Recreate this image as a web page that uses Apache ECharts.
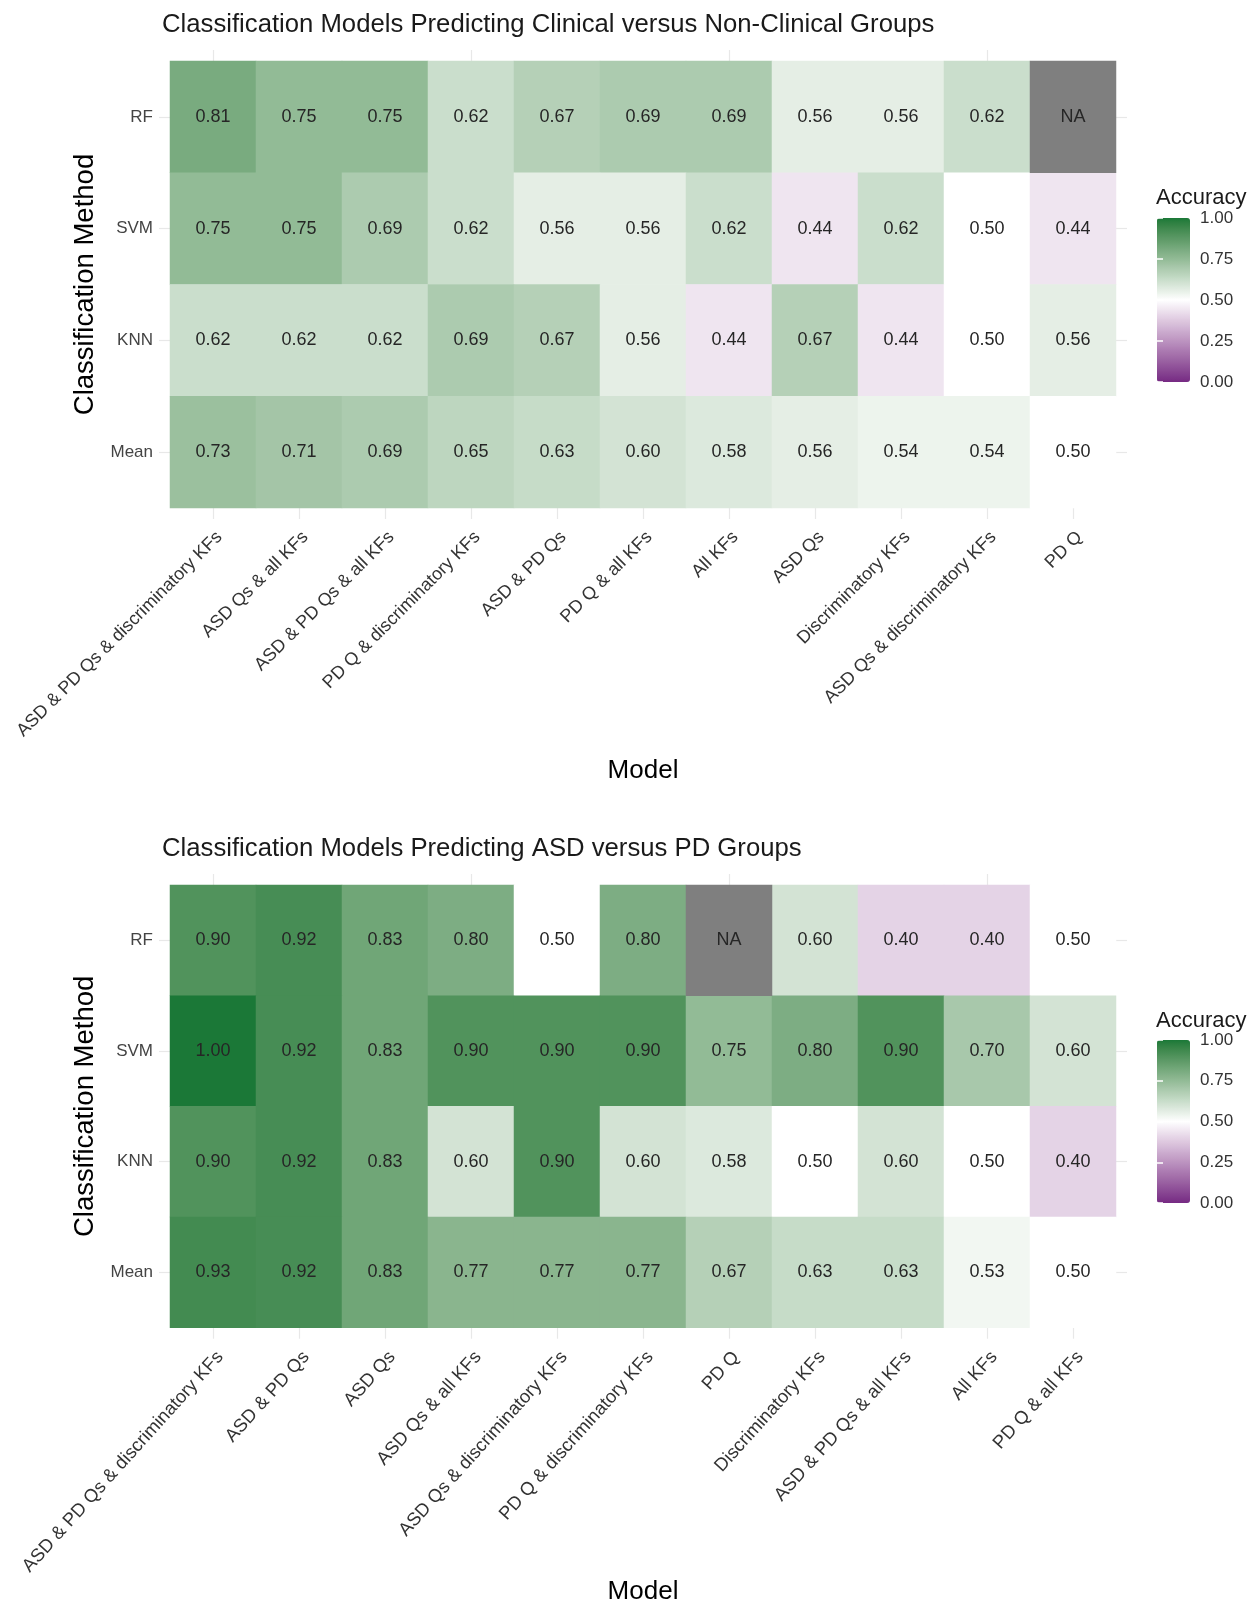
<!DOCTYPE html>
<html>
<head>
<meta charset="utf-8">
<script src="https://cdn.jsdelivr.net/npm/echarts@6/dist/echarts.min.js"></script>
<style>
html, body { margin: 0; padding: 0; background: #fff; }
#main { width: 1255px; height: 1606px; }
</style>
</head>
<body>
<div id="main"></div>
<script>
var methods = ['RF', 'SVM', 'KNN', 'Mean'];

// clinical vs non-clinical
var modelsClinical = ['ASD & PD Qs & discriminatory KFs', 'ASD Qs & all KFs', 'ASD & PD Qs & all KFs',
	'PD Q & discriminatory KFs', 'ASD & PD Qs', 'PD Q & all KFs', 'All KFs', 'ASD Qs',
	'Discriminatory KFs', 'ASD Qs & discriminatory KFs', 'PD Q'];
var rfClinical   = [0.81, 0.75, 0.75, 0.62, 0.67, 0.69, 0.69, 0.56, 0.56, 0.62, null];
var svmClinical  = [0.75, 0.75, 0.69, 0.62, 0.56, 0.56, 0.62, 0.44, 0.62, 0.50, 0.44];
var knnClinical  = [0.62, 0.62, 0.62, 0.69, 0.67, 0.56, 0.44, 0.67, 0.44, 0.50, 0.56];
var meanClinical = [0.73, 0.71, 0.69, 0.65, 0.63, 0.60, 0.58, 0.56, 0.54, 0.54, 0.50];

// ASD vs PD
var modelsAsdPd = ['ASD & PD Qs & discriminatory KFs', 'ASD & PD Qs', 'ASD Qs', 'ASD Qs & all KFs',
	'ASD Qs & discriminatory KFs', 'PD Q & discriminatory KFs', 'PD Q', 'Discriminatory KFs',
	'ASD & PD Qs & all KFs', 'All KFs', 'PD Q & all KFs'];
var rfAsdPd   = [0.90, 0.92, 0.83, 0.80, 0.50, 0.80, null, 0.60, 0.40, 0.40, 0.50];
var svmAsdPd  = [1.00, 0.92, 0.83, 0.90, 0.90, 0.90, 0.75, 0.80, 0.90, 0.70, 0.60];
var knnAsdPd  = [0.90, 0.92, 0.83, 0.60, 0.90, 0.60, 0.58, 0.50, 0.60, 0.50, 0.40];
var meanAsdPd = [0.93, 0.92, 0.83, 0.77, 0.77, 0.77, 0.67, 0.63, 0.63, 0.53, 0.50];

var font = 'Liberation Sans, Arial, sans-serif';

function toCells(rows) {
	var cells = [], naCells = [];
	rows.forEach(function (row, yi) {
		row.forEach(function (v, xi) {
			if (v === null) naCells.push([xi, yi, 0]); // NA: value only used to draw the grey tile
			else cells.push([xi, yi, v]);
		});
	});
	return { cells: cells, naCells: naCells };
}
var clinical = toCells([rfClinical, svmClinical, knnClinical, meanClinical]);
var asdPd = toCells([rfAsdPd, svmAsdPd, knnAsdPd, meanAsdPd]);

// ggplot scale_fill_gradient2 interpolates in Lab, so build the stops that way
function hexToLab(h) {
	var lin = [1, 3, 5].map(function (i) {
		var v = parseInt(h.slice(i, i + 2), 16) / 255;
		return v <= 0.04045 ? v / 12.92 : Math.pow((v + 0.055) / 1.055, 2.4);
	});
	var x = (0.4124 * lin[0] + 0.3576 * lin[1] + 0.1805 * lin[2]) / 0.95047;
	var y = 0.2126 * lin[0] + 0.7152 * lin[1] + 0.0722 * lin[2];
	var z = (0.0193 * lin[0] + 0.1192 * lin[1] + 0.9505 * lin[2]) / 1.08883;
	var f = function (t) { return t > 0.008856 ? Math.cbrt(t) : 7.787 * t + 16 / 116; };
	return [116 * f(y) - 16, 500 * (f(x) - f(y)), 200 * (f(y) - f(z))];
}
function labToHex(lab) {
	var fy = (lab[0] + 16) / 116, fx = fy + lab[1] / 500, fz = fy - lab[2] / 200;
	var inv = function (t) { return t * t * t > 0.008856 ? t * t * t : (t - 16 / 116) / 7.787; };
	var x = inv(fx) * 0.95047, y = inv(fy), z = inv(fz) * 1.08883;
	var rgb = [3.2406 * x - 1.5372 * y - 0.4986 * z,
		-0.9689 * x + 1.8758 * y + 0.0415 * z,
		0.0557 * x - 0.2040 * y + 1.0570 * z];
	return '#' + rgb.map(function (v) {
		v = v <= 0.0031308 ? 12.92 * v : 1.055 * Math.pow(v, 1 / 2.4) - 0.055;
		v = Math.round(Math.max(0, Math.min(1, v)) * 255);
		return (v < 16 ? '0' : '') + v.toString(16);
	}).join('');
}
function gradient2(low, mid, high, n) {
	var a = hexToLab(low), m = hexToLab(mid), b = hexToLab(high), out = [];
	for (var i = 0; i < n; i++) {
		var t = i / (n - 1), p, q, s;
		if (t <= 0.5) { p = a; q = m; s = t / 0.5; } else { p = m; q = b; s = (t - 0.5) / 0.5; }
		out.push(labToHex([0, 1, 2].map(function (k) { return p[k] + (q[k] - p[k]) * s; })));
	}
	return out;
}
var accColors = gradient2('#762A83', '#FFFFFF', '#1B7837', 41);

var gridTick = { show: true, alignWithLabel: true, length: 11, lineStyle: { color: '#e8e8e8', width: 1.2 } };

function panelAxes(models, gridIndex, rotate, labelSize) {
	return {
		x: [{
			type: 'category', gridIndex: gridIndex, data: models, position: 'bottom',
			axisLine: { show: false }, axisTick: gridTick,
			axisLabel: { rotate: rotate, margin: 20, verticalAlign: 'top', fontSize: labelSize,
				color: '#333', fontFamily: font, interval: 0 },
			name: 'Model', nameLocation: 'middle', nameGap: 250,
			nameTextStyle: { fontSize: 26, color: '#000', fontFamily: font }
		}, {
			type: 'category', gridIndex: gridIndex, data: models, position: 'top',
			axisLine: { show: false }, axisTick: gridTick, axisLabel: { show: false }
		}],
		y: [{
			type: 'category', gridIndex: gridIndex, data: methods, inverse: true, position: 'left',
			axisLine: { show: false }, axisTick: gridTick,
			axisLabel: { margin: 17, fontSize: 17, color: '#444', fontFamily: font },
			name: 'Classification Method', nameLocation: 'middle', nameGap: 61,
			nameTextStyle: { fontSize: 27.5, color: '#000', fontFamily: font }
		}, {
			type: 'category', gridIndex: gridIndex, data: methods, inverse: true, position: 'right',
			axisLine: { show: false }, axisTick: gridTick, axisLabel: { show: false }
		}]
	};
}

function legendAxes(gridIndex) {
	var tick = { show: true, inside: true, length: 6, lineStyle: { color: '#ffffff', width: 1.5 } };
	return {
		x: [{ type: 'value', gridIndex: gridIndex, show: false, min: 0, max: 1 }],
		y: [{
			type: 'value', gridIndex: gridIndex, min: 0, max: 1, interval: 0.25, position: 'right', z: 10,
			axisLine: { show: false }, splitLine: { show: false }, axisTick: tick,
			axisLabel: { margin: 10, fontSize: 17, color: '#333', fontFamily: font,
				formatter: function (v) { return v.toFixed(2); } }
		}, {
			type: 'value', gridIndex: gridIndex, min: 0, max: 1, interval: 0.25, position: 'left', z: 10,
			axisLine: { show: false }, splitLine: { show: false }, axisTick: tick, axisLabel: { show: false }
		}]
	};
}

var p0 = panelAxes(modelsClinical, 0, 45, 18);
var p1 = panelAxes(modelsAsdPd, 1, 48, 18.5);
var l0 = legendAxes(2);
var l1 = legendAxes(3);

function cellSeries(data, xIdx, yIdx, na) {
	return {
		type: 'heatmap', xAxisIndex: xIdx, yAxisIndex: yIdx, data: data,
		emphasis: { disabled: true },
		label: {
			show: true, fontSize: 18, color: '#262626', fontFamily: font,
			formatter: function (p) { return na ? 'NA' : p.value[2].toFixed(2); }
		}
	};
}

var myChart = echarts.init(document.getElementById('main'));
var option = {
	animation: false,
	backgroundColor: '#ffffff',
	textStyle: { fontFamily: font },
	title: [
		{ text: 'Classification Models Predicting Clinical versus Non-Clinical Groups', left: 162, top: 12, padding: 0,
			textStyle: { fontSize: 25.7, fontWeight: 'normal', color: '#1a1a1a', fontFamily: font } },
		{ text: 'Classification Models Predicting ASD versus PD Groups', left: 162, top: 836, padding: 0,
			textStyle: { fontSize: 25.7, fontWeight: 'normal', color: '#1a1a1a', fontFamily: font } },
		{ text: 'Accuracy', left: 1156, top: 187, padding: 0,
			textStyle: { fontSize: 22, fontWeight: 'normal', color: '#1a1a1a', fontFamily: font } },
		{ text: 'Accuracy', left: 1156, top: 1010, padding: 0,
			textStyle: { fontSize: 22, fontWeight: 'normal', color: '#1a1a1a', fontFamily: font } }
	],
	grid: [
		{ left: 170, top: 61, width: 946, height: 447 },
		{ left: 170, top: 885, width: 946, height: 446 },
		{ left: 1157, top: 218, width: 33, height: 164 },
		{ left: 1157, top: 1040, width: 33, height: 163 }
	],
	xAxis: p0.x.concat(p1.x, l0.x, l1.x),
	yAxis: p0.y.concat(p1.y, l0.y, l1.y),
	visualMap: [
		{ type: 'continuous', seriesIndex: 0, min: 0, max: 1, calculable: false, hoverLink: false,
			left: 1157, top: 218, itemWidth: 33, itemHeight: 164, padding: 0,
			inRange: { color: accColors } },
		{ type: 'continuous', seriesIndex: 2, min: 0, max: 1, calculable: false, hoverLink: false,
			left: 1157, top: 1040, itemWidth: 33, itemHeight: 163, padding: 0,
			inRange: { color: accColors } },
		{ type: 'continuous', show: false, seriesIndex: [1, 3], min: 0, max: 1,
			inRange: { color: ['#7f7f7f', '#7f7f7f'] } }
	],
	series: [
		cellSeries(clinical.cells, 0, 0, false),
		cellSeries(clinical.naCells, 0, 0, true),
		cellSeries(asdPd.cells, 2, 2, false),
		cellSeries(asdPd.naCells, 2, 2, true)
	]
};
myChart.setOption(option);
</script>
</body>
</html>
